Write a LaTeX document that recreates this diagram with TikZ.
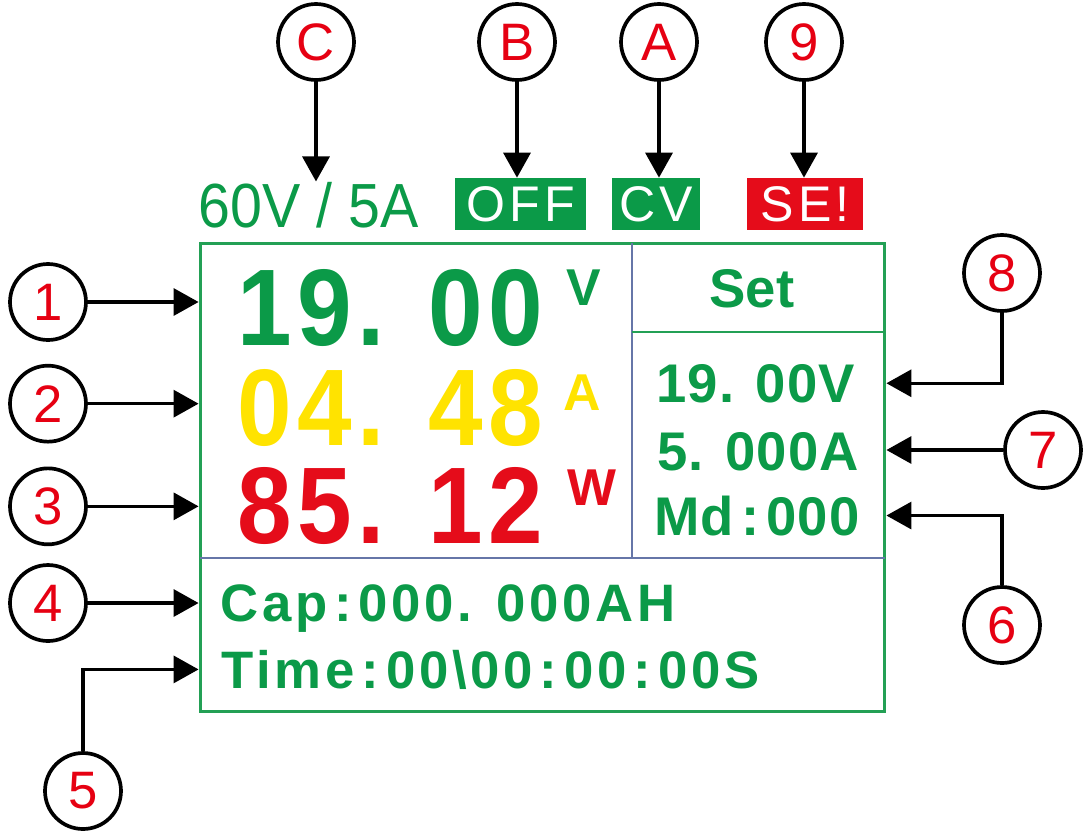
\documentclass[tikz,border=0pt]{standalone}
\usepackage{fontspec}
\setmainfont{Liberation Sans}
\newfontfamily\ratefont[FakeStretch=0.92]{Liberation Sans}
\newfontfamily\digitfont[FakeStretch=0.9,LetterSpace=5]{Liberation Sans}
\newcommand{\lcdcolon}{\kern4pt:\kern4pt}
\usetikzlibrary{arrows.meta,positioning}
\definecolor{lcdgreen}{HTML}{0B9A48}
\definecolor{lcdyellow}{HTML}{FFE300}
\definecolor{lcdred}{HTML}{E50C1A}
\definecolor{framegreen}{HTML}{23A055}
\definecolor{divblue}{HTML}{6676A8}
\definecolor{tagred}{HTML}{E60012}
\tikzset{
  callout/.style={
    circle,
    draw=black,
    line width=2.1pt,
    minimum size=1.52cm,
    inner sep=0pt,
    fill=white,
    text=tagred,
    font=\fontsize{30}{30}\selectfont
  },
  pointer/.style={-{Triangle[length=5mm,width=5.4mm]}, line width=1.9pt, draw=black},
  bignum/.style={anchor=base west, inner sep=0pt, font=\digitfont\fontsize{62}{62}\selectfont\bfseries},
  unitmark/.style={anchor=base west, inner sep=0pt, font=\fontsize{29.5}{30}\selectfont\bfseries},
  readout/.style={anchor=base west, inner sep=0pt, text=lcdgreen,
    font=\fontsize{31}{31}\selectfont\bfseries\addfontfeature{LetterSpace=2}},
  logline/.style={anchor=base west, inner sep=0pt, text=lcdgreen,
    font=\fontsize{30}{30}\selectfont\bfseries\addfontfeature{LetterSpace=7}},
  flag/.style={
    inner sep=0pt,
    minimum height=1.04cm,
    text=white,
    font=\fontsize{28.5}{28.5}\selectfont\addfontfeature{LetterSpace=8}
  },
  divider/.style={line width=1.5pt, draw=divblue}
}

\begin{document}
\begin{tikzpicture}[x=0.02cm, y=-0.02cm]
\useasboundingbox (0,0) rectangle (1086,836);

% Screen frame and panels
\node[draw=framegreen, line width=1.7pt, minimum width=13.7cm, minimum height=9.38cm,
      inner sep=0pt] (screen) at (542.5,477.5) {};
\draw[divider] (632,243) -- (632,558);
\draw[divider] (200,558) -- (885,558);
\draw[line width=1.5pt, draw=framegreen] (632,332) -- (885,332);

% Status line above the screen
\node[anchor=base west, inner sep=0pt, text=lcdgreen,
      font=\ratefont\fontsize{35.5}{36}\selectfont] (rating) at (198,227) {60V / 5A};
\node[flag, fill=lcdgreen, minimum width=2.62cm] (offflag) at (520.5,204) {OFF};
\node[flag, fill=lcdgreen, minimum width=1.76cm] (cvflag) at (656,204) {CV};
\node[flag, fill=lcdred, minimum width=2.32cm] (seflag) at (805,204) {SE!};

% Main readings
\node[bignum, text=lcdgreen] (volt) at (237,345) {19. 00};
\node[unitmark, text=lcdgreen] (voltunit) at (566,305) {V};
\node[bignum, text=lcdyellow] (amp) at (237,445) {04. 48};
\node[unitmark, text=lcdyellow] (ampunit) at (563,410) {A};
\node[bignum, text=lcdred] (watt) at (237,543) {85. 12};
\node[unitmark, text=lcdred] (wattunit) at (567,505) {W};

% Set panel
\node[anchor=base, inner sep=0pt, text=lcdgreen,
      font=\fontsize{31}{31}\selectfont\bfseries] (settitle) at (752,307) {Set};
\node[readout] (setv) at (656,402) {19. 00V};
\node[readout] (seti) at (657,470) {5. 000A};
\node[readout] (mode) at (654,535) {Md\lcdcolon 000};

% Capacity and time
\node[logline] (capline) at (220,621) {Cap\lcdcolon 000. 000AH};
\node[logline] (timeline) at (221,688) {Time\lcdcolon 00\textbackslash 00\lcdcolon 00\lcdcolon 00S};

% Callouts
\node[callout] (cC) at (316,42) {C};
\node[callout] (cB) at (517,42) {B};
\node[callout] (cA) at (659,42) {A};
\node[callout] (c9) at (804,42) {9};
\node[callout] (c1) at (48,302) {1};
\node[callout, below=0.44cm of c1] (c2) {2};
\node[callout, below=0.46cm of c2] (c3) {3};
\node[callout, below=0.34cm of c3] (c4) {4};
\node[callout] (c5) at (83,791) {5};
\node[callout] (c8) at (1002,273) {8};
\node[callout] (c7) at (1043,450) {7};
\node[callout] (c6) at (1002,625) {6};

% Pointers
\draw[pointer] (cC.south) -- (cC.south |- rating.north);
\draw[pointer] (cB.south) -- (cB.south |- offflag.north);
\draw[pointer] (cA.south) -- (cA.south |- cvflag.north);
\draw[pointer] (c9.south) -- (c9.south |- seflag.north);
\draw[pointer] (c1) -- (c1 -| screen.west);
\draw[pointer] (c2) -- (c2 -| screen.west);
\draw[pointer] (c3) -- (c3 -| screen.west);
\draw[pointer] (c4) -- (c4 -| screen.west);
\draw[pointer] (c5.north) |- (timeline.west -| screen.west);
\draw[pointer] (c8.south) |- (setv.east -| screen.east);
\draw[pointer] (c7) -- (c7 -| screen.east);
\draw[pointer] (c6.north) |- (mode.east -| screen.east);

\end{tikzpicture}
\end{document}
